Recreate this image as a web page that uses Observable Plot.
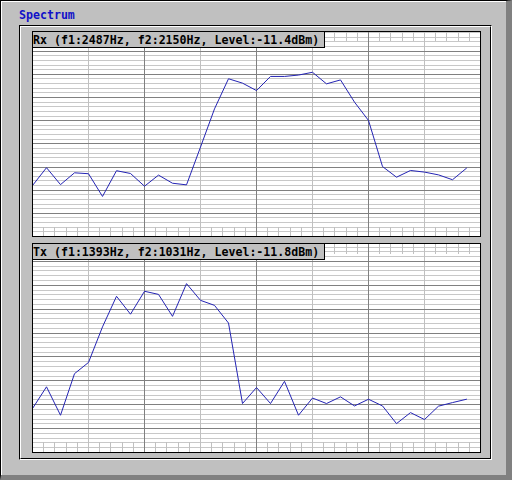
<!DOCTYPE html>
<html><head><meta charset="utf-8">
<script src="https://cdn.jsdelivr.net/npm/d3@7"></script>
<script src="https://cdn.jsdelivr.net/npm/@observablehq/plot@0.6"></script>
<style>
html,body{margin:0;padding:0;background:#c0c0c0;}
#win{position:relative;width:512px;height:480px;background:#c0c0c0;overflow:hidden;}
.abs{position:absolute;box-sizing:border-box;}
#bevel{left:0;top:0;width:512px;height:480px;border-top:1px solid #000;border-left:1px solid #000;border-right:6px solid #808080;border-bottom:5px solid #808080;}
#bevel2{left:1px;top:1px;width:505px;height:474px;border-top:1px solid #fff;border-left:1px solid #fff;}
#groove1{left:19px;top:25px;width:473px;height:435px;border-top:1px solid #000;border-left:1px solid #000;border-right:1px solid #fff;border-bottom:1px solid #fff;}
#groove2{left:20px;top:26px;width:471px;height:433px;border-top:1px solid #fff;border-left:1px solid #fff;border-right:1px solid #000;border-bottom:1px solid #000;}
.mono{font-family:"DejaVu Sans Mono",monospace;font-weight:bold;font-size:11.6px;white-space:nowrap;}
#title{left:19px;top:8px;line-height:14px;color:#1010c8;}
.label{width:293px;height:17px;border:1px solid #000;background:#c0c0c0;color:#000;padding-top:1px;padding-left:0px;line-height:14px;}
</style></head>
<body>
<div id="win">
  <div id="bevel" class="abs"></div>
  <div id="bevel2" class="abs"></div>
  <div id="title" class="abs mono">Spectrum</div>
  <div id="groove1" class="abs"></div>
  <div id="groove2" class="abs"></div>
  <div id="p1" class="abs" style="left:32px;top:31px;"></div>
  <div id="p2" class="abs" style="left:32px;top:243px;"></div>
  <div id="l1" class="abs mono label" style="left:32px;top:31px;"></div>
  <div id="l2" class="abs mono label" style="left:32px;top:243px;"></div>
</div>
<script>
// Frequency bins (Hz)
const freqs = [0,125,250,375,500,625,750,875,1000,1125,1250,1375,1500,1625,1750,1875,
               2000,2125,2250,2375,2500,2625,2750,2875,3000,3125,3250,3375,3500,3625,3750,3875];
// Rx spectrum level (dB)
const rxLevel = [-68.0,-60.3,-67.6,-62.5,-62.9,-72.7,-61.6,-62.8,-68.3,-63.5,-67.0,-67.7,
                 -51.4,-34.9,-21.9,-23.8,-27.0,-20.9,-20.9,-20.3,-19.1,-24.1,-22.4,-32.0,
                 -39.9,-59.8,-64.4,-61.5,-62.2,-63.4,-65.5,-60.5];
// Tx spectrum level (dB)
const txLevel = [-71.6,-62.5,-74.4,-57.0,-52.3,-37.4,-24.6,-32.1,-22.5,-23.8,-33.0,-19.3,
                 -26.3,-28.4,-35.8,-69.5,-62.8,-69.5,-60.2,-74.4,-67.2,-69.5,-66.7,-70.5,
                 -67.7,-70.5,-77.9,-73.3,-76.2,-70.6,-69.1,-67.7];
// Panel captions
const rxLabel = "Rx (f1:2487Hz, f2:2150Hz, Level:-11.4dBm)";
const txLabel = "Tx (f1:1393Hz, f2:1031Hz, Level:-11.8dBm)";
// Grid tick values
const darkX = [1000,2000,3000];
const lightX = [500,1500,2500,3500];
const rulerX = [100,200,300,400,500,600,700,800,900,1000,1100,1200,1300,1400,1500,1600,1700,1800,1900,
                2000,2100,2200,2300,2400,2500,2600,2700,2800,2900,3000,3100,3200,3300,3400,3500,3600,3700,3800,3900];
const darkY = [-80,-70,-60,-50,-40,-30,-20,-10];
const lightY = [-88,-86,-84,-82,-78,-76,-74,-72,-68,-66,-64,-62,-58,-56,-54,-52,-48,-46,-44,-42,
                -38,-36,-34,-32,-28,-26,-24,-22,-18,-16,-14,-12,-8,-6,-4,-2];

function panel(levels, height, yTop) {
  const data = freqs.map((f, i) => ({f, v: levels[i]}));
  return Plot.plot({
    width: 449, height,
    marginLeft: 0, marginTop: 0, marginRight: 1, marginBottom: 1,
    x: {domain: [0, 4000], axis: null},
    y: {domain: [-90, yTop], axis: null},
    style: {background: "#fff", overflow: "visible"},
    marks: [
      Plot.ruleY(lightY.filter(d => d < yTop), {stroke: "#c8c8c8", shapeRendering: "crispEdges"}),
      Plot.ruleX(lightX, {stroke: "#c0c0c0", shapeRendering: "crispEdges"}),
      Plot.ruleX(rulerX, {y1: -90, y2: -86, stroke: "#c0c0c0", shapeRendering: "crispEdges"}),
      Plot.ruleX(rulerX, {y1: yTop, y2: yTop - 4.5, stroke: "#c0c0c0", shapeRendering: "crispEdges"}),
      Plot.ruleY(darkY, {stroke: "#808080", shapeRendering: "crispEdges"}),
      Plot.ruleX(darkX, {stroke: "#808080", shapeRendering: "crispEdges"}),
      Plot.line(data, {x: "f", y: "v", stroke: "#2424b4", strokeWidth: 1}),
      Plot.frame({stroke: "#000", shapeRendering: "crispEdges"})
    ]
  });
}
document.getElementById("p1").appendChild(panel(rxLevel, 206, -1.5));
document.getElementById("p2").appendChild(panel(txLevel, 210, -2.5));
document.getElementById("l1").textContent = rxLabel;
document.getElementById("l2").textContent = txLabel;
</script>
</body></html>
